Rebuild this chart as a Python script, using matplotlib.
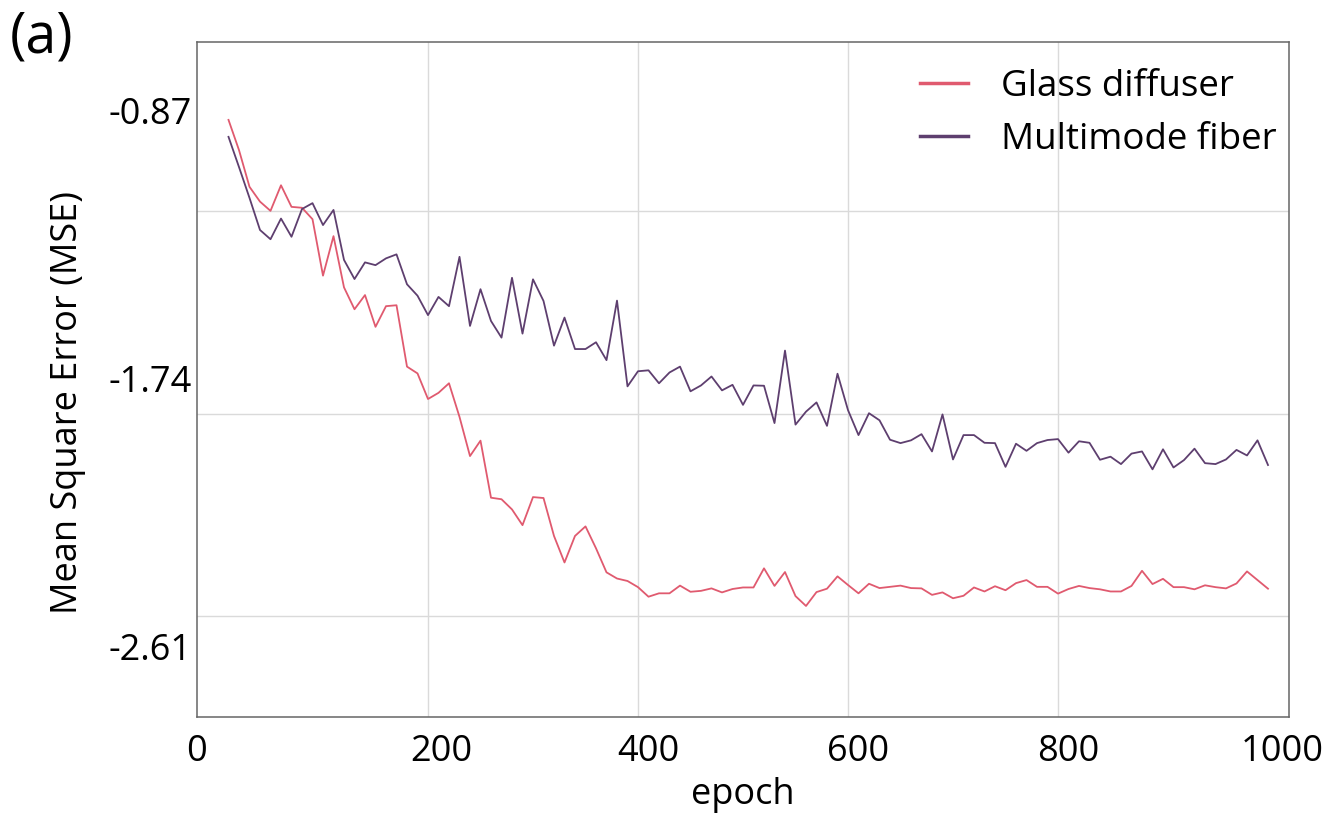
import numpy as np
import matplotlib
matplotlib.use("Agg")
import matplotlib.pyplot as plt

plt.rcParams['font.family'] = ['Open Sans', 'DejaVu Sans']

epochs = list(range(10, 1001, 10))

glass_diffuser = [
    -0.902, -1.000, -1.119, -1.167, -1.197, -1.114, -1.184, -1.187, -1.224, -1.407,
    -1.279, -1.445, -1.516, -1.470, -1.573, -1.506, -1.503, -1.702, -1.724, -1.807,
    -1.787, -1.756, -1.865, -1.992, -1.942, -2.127, -2.132, -2.165, -2.216, -2.125,
    -2.128, -2.251, -2.337, -2.251, -2.220, -2.291, -2.369, -2.389, -2.397, -2.417,
    -2.448, -2.437, -2.437, -2.412, -2.432, -2.429, -2.421, -2.434, -2.423, -2.418,
    -2.418, -2.356, -2.413, -2.368, -2.446, -2.478, -2.433, -2.422, -2.382, -2.410,
    -2.437, -2.406, -2.420, -2.416, -2.412, -2.420, -2.421, -2.442, -2.434, -2.453,
    -2.445, -2.418, -2.431, -2.414, -2.427, -2.404, -2.394, -2.416, -2.416, -2.438,
    -2.423, -2.413, -2.420, -2.424, -2.431, -2.431, -2.413, -2.364, -2.407, -2.390,
    -2.417, -2.417, -2.424, -2.411, -2.417, -2.421, -2.405, -2.366, -2.394, -2.422,
]

multimode_fiber = [
    -0.957, -1.055, -1.155, -1.259, -1.289, -1.222, -1.281, -1.191, -1.172, -1.243,
    -1.194, -1.356, -1.418, -1.364, -1.373, -1.351, -1.338, -1.435, -1.472, -1.535,
    -1.476, -1.506, -1.346, -1.570, -1.451, -1.554, -1.608, -1.414, -1.595, -1.419,
    -1.489, -1.634, -1.543, -1.645, -1.645, -1.623, -1.681, -1.488, -1.766, -1.717,
    -1.714, -1.756, -1.721, -1.702, -1.782, -1.763, -1.734, -1.779, -1.761, -1.826,
    -1.763, -1.764, -1.885, -1.650, -1.890, -1.848, -1.818, -1.894, -1.725, -1.843,
    -1.924, -1.853, -1.876, -1.939, -1.950, -1.941, -1.921, -1.977, -1.857, -2.003,
    -1.924, -1.924, -1.949, -1.950, -2.027, -1.952, -1.975, -1.950, -1.940, -1.937,
    -1.981, -1.944, -1.949, -2.004, -1.994, -2.018, -1.984, -1.977, -2.035, -1.970,
    -2.029, -2.005, -1.968, -2.015, -2.018, -2.003, -1.972, -1.990, -1.941, -2.021,
]

series_labels = ["Glass diffuser", "Multimode fiber"]
x_tick_labels = ["0", "200", "400", "600", "800", "1000"]
y_tick_values = [-0.87, -1.74, -2.61]
y_tick_labels = ["-0.87", "-1.74", "-2.61"]

pink = "#e05a6f"
purple = "#5e3f6f"

fig = plt.figure(figsize=(13.3, 8.15), dpi=100)
ax = fig.add_axes([197/1330, 1 - 717/815, (1289-197)/1330, (717-42)/815])

ax.plot(epochs, glass_diffuser, color=pink, lw=1.3, label=series_labels[0])
ax.plot(epochs, multimode_fiber, color=purple, lw=1.3, label=series_labels[1])

ax.set_xlim(-20, 1020)
ax.set_ylim(-2.838, -0.6495)

# label positions (as placed in the reference) and separate grid positions
ax.set_xticks([-20, 213, 409.5, 609.5, 809.5, 1014])
ax.set_xticklabels(x_tick_labels)
ax.set_xticks([200, 400, 600, 800], minor=True)
ax.set_yticks(y_tick_values)
ax.set_yticklabels(y_tick_labels)
ax.set_yticks([-1.198, -1.855, -2.511], minor=True)

ax.grid(False)
ax.grid(True, which='minor', color='#dadada', lw=1.0)
ax.set_axisbelow(True)
ax.tick_params(which='both', length=0)
ax.tick_params(axis='y', labelsize=26, pad=4)
ax.tick_params(axis='x', labelsize=26, pad=12)

for s in ax.spines.values():
    s.set_color('#666666')
    s.set_linewidth(1.1)

ax.set_xlabel("epoch", fontsize=26, labelpad=5)
fig.text(68/1330, 1 - 403/815, "Mean Square Error (MSE)", rotation=90,
         ha='center', va='center', fontsize=26)
fig.text(10/1330, 1 - 38/815, "(a)", ha='left', va='center', fontsize=40)

leg = ax.legend(loc='upper right', bbox_to_anchor=(0.989, 0.960), frameon=False,
                fontsize=26.5, handlelength=1.3, handletextpad=0.9,
                labelspacing=0.45, borderaxespad=0.0, borderpad=0.0)
for h in leg.get_lines():
    h.set_linewidth(2.5)

fig.savefig("out.png", dpi=100)
